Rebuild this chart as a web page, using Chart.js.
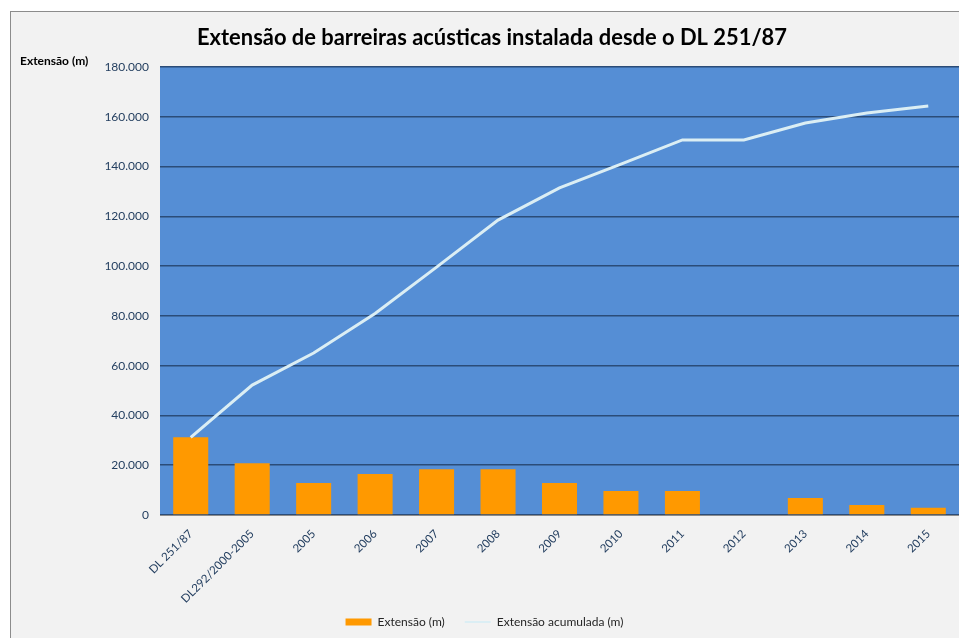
<!DOCTYPE html>
<html>
<head>
<meta charset="utf-8">
<script src="https://cdn.jsdelivr.net/npm/chart.js@4.4.1/dist/chart.umd.min.js"></script>
<style>
html, body { margin: 0; padding: 0; background: #fff; }
#wrap { width: 959px; height: 638px; position: relative; }
</style>
</head>
<body>
<div id="wrap"><canvas id="grafico"></canvas></div>
<script>
// dados
var titulo = "Extensão de barreiras acústicas instalada desde o DL 251/87";
var tituloEixo = "Extensão (m)";
var categorias = ["DL 251/87", "DL292/2000-2005", "2005", "2006", "2007", "2008", "2009", "2010", "2011", "2012", "2013", "2014", "2015"];
var extensao = [31200, 20800, 12900, 16500, 18400, 18400, 12900, 9600, 9600, 0, 6800, 4000, 2900];
var acumulada = [31200, 52200, 65100, 81000, 99600, 118500, 131400, 141000, 150700, 150700, 157500, 161500, 164300];
var ticksY = [0, 20000, 40000, 60000, 80000, 100000, 120000, 140000, 160000, 180000];

var corTexto = '#243f60';

function formatar(v) {
    return String(v).replace(/\B(?=(\d{3})+(?!\d))/g, '.');
}

var fundo = {
    id: 'fundo',
    afterLayout: function(chart) {
        // deixa o rotulo comprido do eixo x passar por cima da legenda sem ser cortado
        chart.scales.x.bottom += 20;
    },
    beforeDraw: function(chart) {
        var ctx = chart.ctx, a = chart.chartArea;
        ctx.save();
        ctx.fillStyle = '#ffffff';
        ctx.fillRect(0, 0, chart.width, chart.height);
        ctx.fillStyle = '#f2f2f2';
        ctx.fillRect(10.5, 11.5, chart.width, chart.height);
        ctx.strokeStyle = '#8c8c8c';
        ctx.lineWidth = 1;
        ctx.strokeRect(10.5, 11.5, chart.width + 10, chart.height + 10);
        ctx.fillStyle = '#558ed5';
        ctx.fillRect(a.left, a.top, a.right - a.left, a.bottom - a.top);

        ctx.fillStyle = '#000';
        ctx.textBaseline = 'middle';
        ctx.textAlign = 'center';
        ctx.font = 'bold 22px Lato';
        ctx.fillText(titulo, 492, 38, 590);
        ctx.textAlign = 'left';
        ctx.font = 'bold 12px Lato';
        ctx.fillText(tituloEixo, 20, 61, 74);
        ctx.restore();
    }
};

var ctx = document.getElementById('grafico').getContext('2d');
window.grafico = new Chart(ctx, {
    type: 'bar',
    data: {
        labels: categorias,
        datasets: [{
            type: 'bar',
            label: 'Extensão (m)',
            data: extensao,
            backgroundColor: '#ff9900',
            borderWidth: 0,
            barPercentage: 0.57,
            categoryPercentage: 1,
            pointStyle: 'rect',
            order: 1
        }, {
            type: 'line',
            label: 'Extensão acumulada (m)',
            data: acumulada,
            borderColor: '#dbeef4',
            backgroundColor: '#dbeef4',
            borderWidth: 3,
            pointRadius: 0,
            pointStyle: 'line',
            tension: 0,
            order: 0
        }]
    },
    options: {
        animation: false,
        responsive: true,
        maintainAspectRatio: false,
        layout: { padding: { left: 10, right: 0, top: 67, bottom: 0 } },
        plugins: {
            title: { display: false },
            tooltip: { enabled: false },
            legend: {
                position: 'bottom',
                labels: {
                    usePointStyle: true,
                    pointStyleWidth: 26,
                    boxHeight: 7,
                    padding: 20,
                    color: '#262626',
                    font: { family: 'Lato', size: 12 },
                    generateLabels: function(chart) {
                        var itens = Chart.defaults.plugins.legend.labels.generateLabels(chart);
                        itens.sort(function(a, b) { return a.datasetIndex - b.datasetIndex; });
                        itens.forEach(function(it) {
                            if (it.datasetIndex === 0) {
                                it.pointStyle = 'rect';
                                it.lineWidth = 0;
                            } else {
                                it.pointStyle = 'line';
                                it.lineWidth = 2;
                            }
                        });
                        return itens;
                    }
                }
            }
        },
        scales: {
            x: {
                grid: { display: false },
                border: { display: true, color: '#8c8c8c', width: 1 },
                ticks: {
                    color: corTexto,
                    font: { family: 'Lato', size: 11.5 },
                    minRotation: 45,
                    maxRotation: 45,
                    padding: 4
                },
                afterFit: function(s) { s.height = 81; }
            },
            y: {
                min: 0,
                max: 180000,
                afterBuildTicks: function(s) {
                    s.ticks = ticksY.map(function(v) { return { value: v }; });
                },
                grid: { color: '#2b4c78', lineWidth: 1.5, drawTicks: false },
                border: { display: false },
                ticks: {
                    color: corTexto,
                    font: { family: 'Lato', size: 12 },
                    padding: 11,
                    callback: function(v) { return formatar(v); }
                },
                afterFit: function(s) { s.width = 150; }
            }
        }
    },
    plugins: [fundo]
});
</script>
</body>
</html>
